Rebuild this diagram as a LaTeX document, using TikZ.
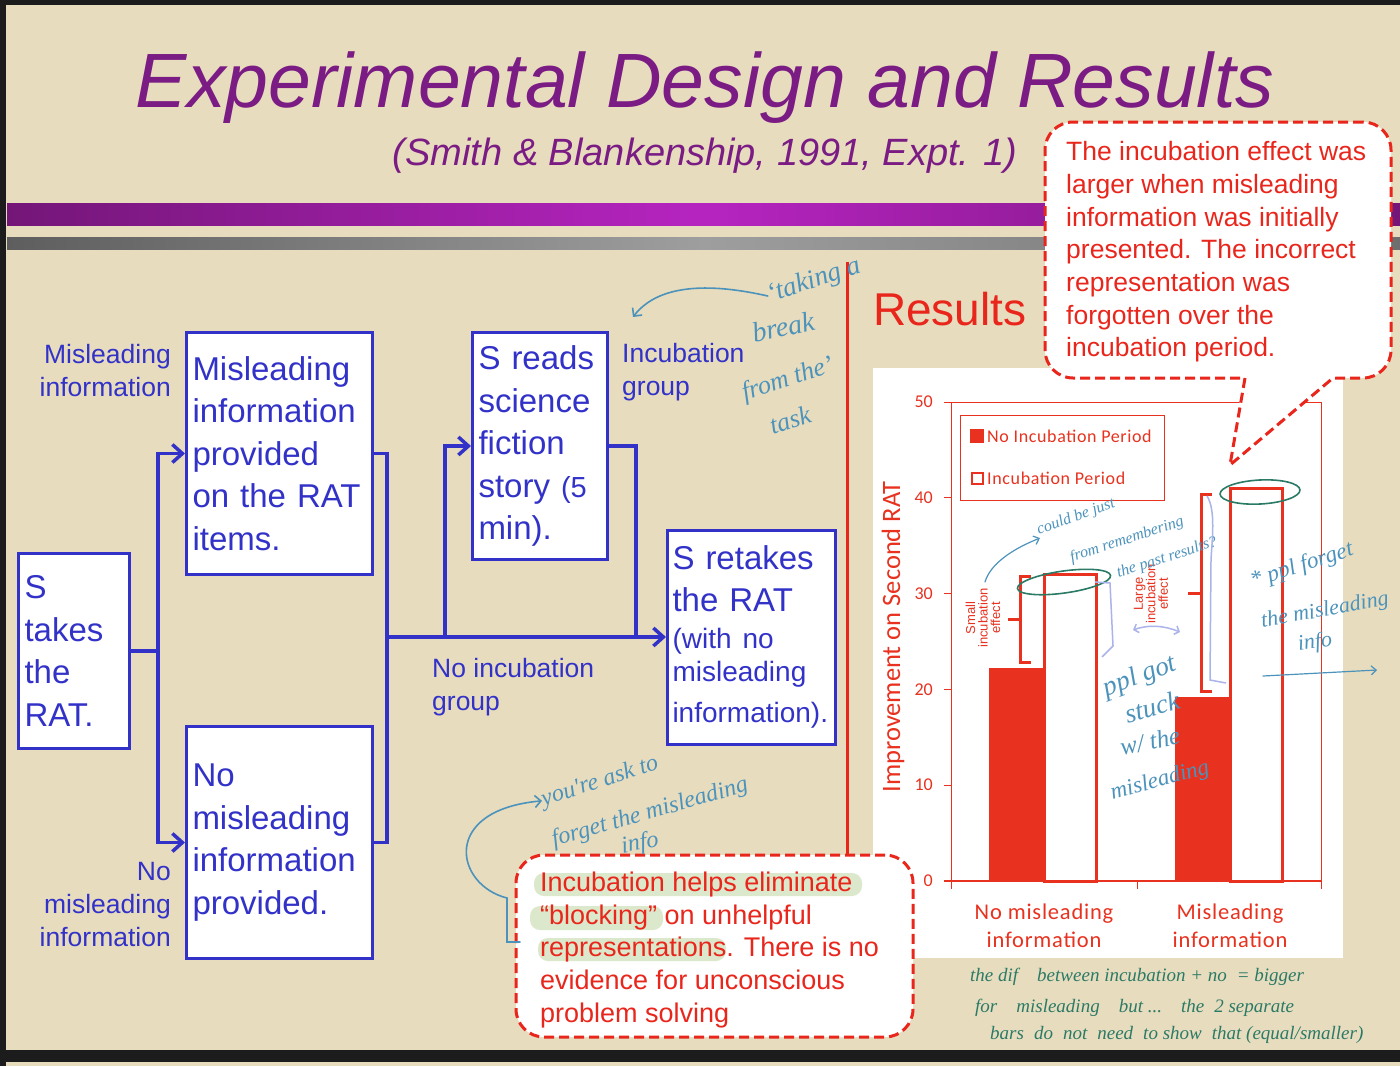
\documentclass[tikz,border=0pt]{standalone}
\usepackage{fontspec}
\setmainfont{Liberation Sans}
\newfontfamily\chartfont{Carlito}
\newfontfamily\chartwidefont{Carlito}[LetterSpace=3.5]
\newfontfamily\handfont{Liberation Serif}
\usetikzlibrary{arrows.meta}
\usetikzlibrary{positioning}

\definecolor{slidebg}{HTML}{E8DCBE}
\definecolor{darkedge}{HTML}{1C1C1C}
\definecolor{titlepurple}{HTML}{7A1C84}
\definecolor{barpurpleD}{HTML}{741678}
\definecolor{barpurpleL}{HTML}{B624C0}
\definecolor{bargrayD}{HTML}{5E5E5E}
\definecolor{bargrayL}{HTML}{9E9E9E}
\definecolor{flowblue}{HTML}{3232C8}
\definecolor{notered}{HTML}{E9261C}
\definecolor{chartred}{HTML}{E8321F}
\definecolor{hlgreen}{HTML}{DCE8CB}
\definecolor{handblue}{HTML}{4C93BC}
\definecolor{handgreen}{HTML}{2B7A66}
\definecolor{bracelav}{HTML}{AAB4EA}

\begin{document}
\begin{tikzpicture}[x=1pt,y=-1pt,>={Straight Barb[length=10pt,width=18pt]},
  flowbox/.style={draw=flowblue, line width=3pt, fill=white, text=flowblue,
    align=left, inner sep=0pt, font=\fontsize{33}{42.5}\selectfont},
  flowlbl/.style={text=flowblue, inner sep=0pt, font=\fontsize{26.5}{33}\selectfont},
  flowline/.style={draw=flowblue, line width=3.5pt},
  notebox/.style={draw=notered, line width=3pt, dash pattern=on 10pt off 5pt,
    fill=white, rounded corners=28pt, inner sep=0pt},
  notetext/.style={text=notered, align=left, inner sep=0pt},
  ticklbl/.style={text=chartred, inner sep=0pt, font=\chartfont\fontsize{18}{18}\selectfont},
  catlbl/.style={text=chartred, align=center, inner sep=0pt,
    font=\chartwidefont\fontsize{22.5}{28}\selectfont},
  legendlbl/.style={text=chartred, inner sep=0pt, font=\chartwidefont\fontsize{18}{18}\selectfont},
  effectlbl/.style={text=chartred, align=center, inner sep=0pt, rotate=90,
    font=\fontsize{13}{12.5}\selectfont},
  hand/.style={text=handblue, inner sep=0pt, font=\handfont\itshape\fontsize{24}{24}\selectfont},
  handline/.style={draw=handblue, line width=1.6pt, line cap=round},
  greenhand/.style={text=handgreen, inner sep=0pt, anchor=west,
    font=\handfont\itshape\fontsize{19}{19}\selectfont}]

  \useasboundingbox (0,0) rectangle (1400,1066);

  % slide background and bars
  \fill[slidebg] (0,0) rectangle (1400,1066);
  \fill[darkedge] (0,0) rectangle (1400,5);
  \fill[darkedge] (0,0) rectangle (6,1066);
  \fill[darkedge] (0,1050) rectangle (1400,1062);
  \shade[left color=barpurpleD, right color=barpurpleD, middle color=barpurpleL]
    (7,203) rectangle (1400,225);
  \shade[left color=bargrayD, right color=bargrayD!90!white, middle color=bargrayL]
    (7,237) rectangle (1400,249);

  \node[text=titlepurple, anchor=base, inner sep=0pt,
    font=\itshape\fontsize{77}{77}\selectfont] (title) at (705,107)
    {Experimental Design and Results};
  \node[text=titlepurple, anchor=base, inner sep=0pt,
    font=\itshape\fontsize{38}{38}\selectfont] (subtitle) at (705,165)
    {(Smith \& Blankenship, 1991, Expt. 1)};

  % flow chart
  \node[flowbox, minimum width=111pt, minimum height=195pt, text width=99pt] (rat)
    at (74,651) {S\\takes\\the\\RAT.};
  \node[flowbox, minimum width=186pt, minimum height=242pt, text width=174pt] (mis)
    at (279.5,453.5) {Misleading\\information\\provided\\on the RAT\\items.};
  \node[flowbox, minimum width=186pt, minimum height=232pt, text width=174pt] (nomis)
    at (279.5,842.5) {No\\misleading\\information\\provided.};
  \node[flowbox, minimum width=135pt, minimum height=227pt, text width=123pt] (reads)
    at (540,446) {S reads\\science\\fiction\\story {\fontsize{29}{42.5}\selectfont(5}\\min).};
  \node[flowbox, minimum width=168pt, minimum height=214pt, text width=158pt,
    font=\fontsize{33}{42}\selectfont] (retake) at (751.5,637)
    {S retakes\\the RAT\\[-5pt]{\fontsize{28}{42}\selectfont(with no}\\[-9pt]%
     {\fontsize{28}{42}\selectfont misleading}\\[-1pt]{\fontsize{28}{42}\selectfont information).}};

  \node[flowlbl, align=right, anchor=east] (mislbl) at (171,371) {Misleading\\information};
  \node[flowlbl, align=right, anchor=east] (nomislbl) at (171,904) {No\\misleading\\information};
  \node[flowlbl, align=left, anchor=west] (inclbl) at (622,372) {Incubation\\group};
  \node[flowlbl, align=left, anchor=west] (noinclbl) at (432,687) {No incubation\\group};

  \coordinate (split) at (158,651);
  \coordinate (join) at (387,637);
  \coordinate (fork) at (445,637);
  \coordinate (rejoin) at (636,637);

  \draw[flowline] (rat.east) -- (split);
  \draw[flowline,->] (split) |- (mis.west);
  \draw[flowline,->] (split) |- (nomis.west);
  \draw[flowline] (mis.east) -| (join) |- (nomis.east);
  \draw[flowline,->] (join) -- (retake.west);
  \draw[flowline,->] (fork) |- (reads.west);
  \draw[flowline] (reads.east) -| (rejoin);

  % results side
  \draw[notered, line width=3pt] (847,262) -- (847,855);
  \node[text=notered, anchor=base west, inner sep=0pt,
    font=\fontsize{46}{46}\selectfont] (results) at (873,325) {Results};

  \fill[white] (873,368) rectangle (1343,958);
  \begin{scope}[shift={(951,881)}, y=9.58pt]
    \foreach \c/\a/\b in {93/22.2/32, 279/19.2/41}{
      \fill[chartred] (\c-55,0) rectangle (\c,\a);
      \draw[chartred, line width=3pt] (\c,0) rectangle (\c+52,\b);
    }
    \draw[chartred, line width=1pt] (0,0) rectangle (370,50);
    \draw[chartred, line width=1.2pt] (-7,0) -- (370,0);
    \foreach \v in {0,10,...,50}{
      \draw[chartred, line width=1pt] (-7,\v) -- (0,\v);
      \node[ticklbl, anchor=east] (tick\v) at (-18,\v) {\v};
    }
    \foreach \t in {0,186,370}
      \draw[chartred, line width=1pt] (\t,0) -- (\t,-0.8);
  \end{scope}

  \node[rotate=90, text=chartred, inner sep=0pt,
    font=\chartfont\fontsize{26.5}{26.5}\selectfont] (ylbl) at (893,637)
    {Improvement on Second RAT};
  \node[catlbl] (catno) at (1044,926) {No misleading\\information};
  \node[catlbl] (catmis) at (1230,926) {Misleading\\information};

  \draw[chartred, line width=1pt] (960,415) rectangle (1164,500);
  \fill[chartred] (970,429) rectangle (984,443);
  \node[legendlbl, anchor=west] (legno) at (987,436) {No Incubation Period};
  \draw[chartred, line width=2pt] (971.5,472.5) rectangle (982.5,483.5);
  \node[legendlbl, anchor=west] (leginc) at (987,478) {Incubation Period};

  \draw[chartred, line width=3pt] (1031,576) -- (1020,576) -- (1020,662) -- (1031,662);
  \draw[chartred, line width=3pt] (1020,619) -- (1008,619);
  \draw[chartred, line width=3pt] (1212,494) -- (1201,494) -- (1201,691) -- (1212,691);
  \draw[chartred, line width=3pt] (1201,593) -- (1188,593);
  \node[effectlbl] (smalllbl) at (983,618) {Small\\incubation\\effect};
  \node[effectlbl] (largelbl) at (1151,594) {Large\\incubation\\effect};

  % callouts
  \node[notebox, minimum width=346pt, minimum height=256pt] (effectnote) at (1218,250) {};
  \node[notetext, anchor=west, font=\fontsize{26.5}{32.7}\selectfont] (effecttext) at (1066,252)
    {The incubation effect was\\larger when misleading\\information was initially\\%
     presented. The incorrect\\representation was\\forgotten over the\\incubation period.};
  \fill[white] (1244,374) -- (1230,465) -- (1338,374) -- cycle;
  \draw[notered, line width=3pt, dash pattern=on 10pt off 5pt]
    (1245,378) -- (1230,465) -- (1333,378);

  \node[notebox, minimum width=397pt, minimum height=182pt] (blocknote) at (714.5,946) {};
  \fill[hlgreen, rounded corners=10pt] (534,873) rectangle (862,896);
  \fill[hlgreen, rounded corners=10pt] (530,906) rectangle (663,930);
  \fill[hlgreen, rounded corners=10pt] (538,938) rectangle (726,961);
  \node[notetext, anchor=west, font=\fontsize{27}{32.75}\selectfont] (blocktext) at (540,950)
    {Incubation helps eliminate\\“blocking” on unhelpful\\representations. There is no\\%
     evidence for unconscious\\problem solving};

  % handwritten notes
  \node[hand, rotate=18, font=\handfont\itshape\fontsize{27}{27}\selectfont] (take1) at (814,281) {‘taking a};
  \node[hand, rotate=12, font=\handfont\itshape\fontsize{28}{28}\selectfont] (take2) at (783,327) {break};
  \node[hand, rotate=18, font=\handfont\itshape\fontsize{26}{26}\selectfont] (take3) at (788,380) {from the’};
  \node[hand, rotate=18, font=\handfont\itshape\fontsize{26}{26}\selectfont] (take4) at (790,420) {task};
  \coordinate (breakend) at (633,317);
  \draw[handline,->,>={Straight Barb[length=6pt,width=12pt]}] (take1.west)
    .. controls (715,284) and (660,282) .. (breakend);

  \node[hand, rotate=18] (forget1) at (600,782) {you're ask to};
  \node[hand, rotate=16] (forget2) at (650,813) {forget the misleading};
  \node[hand, rotate=10] (forget3) at (640,844) {info};
  \draw[handline,->,>={Straight Barb[length=6pt,width=12pt]}] (520,942) -- (507,942) -- (507,898)
    .. controls (455,885) and (440,810) .. (forget1.west);

  \node[hand, rotate=20, font=\handfont\itshape\fontsize{16}{16}\selectfont] (recall1) at (1076,517) {could be just};
  \node[hand, rotate=18, font=\handfont\itshape\fontsize{16}{16}\selectfont] (recall2) at (1127,540) {from remembering};
  \node[hand, rotate=18, font=\handfont\itshape\fontsize{16}{16}\selectfont] (recall3) at (1167,558) {the past results?};
  \draw[handline, line width=1.2pt,->,>={Straight Barb[length=5pt,width=9pt]}] (985,582)
    .. controls (990,565) and (1010,550) .. (recall1.south west);

  \node[hand, rotate=20, font=\handfont\itshape\fontsize{27}{27}\selectfont] (stuck1) at (1140,677) {ppl got};
  \node[hand, rotate=15, font=\handfont\itshape\fontsize{27}{27}\selectfont] (stuck2) at (1152,707) {stuck};
  \node[hand, rotate=12, font=\handfont\itshape\fontsize{25}{25}\selectfont] (stuck3) at (1150,741) {w/ the};
  \node[hand, rotate=15, font=\handfont\itshape\fontsize{23}{23}\selectfont] (stuck4) at (1160,781) {misleading};

  \node[hand, rotate=18, font=\handfont\itshape\fontsize{23}{23}\selectfont] (drop1) at (1302,566) {* ppl forget};
  \node[hand, rotate=10, font=\handfont\itshape\fontsize{22}{22}\selectfont] (drop2) at (1325,611) {the misleading};
  \node[hand, rotate=8, font=\handfont\itshape\fontsize{22}{22}\selectfont] (drop3) at (1315,643) {info};
  \draw[handline, line width=1.2pt,->,>={Straight Barb[length=5pt,width=9pt]}] (1263,676) -- (1377,670);

  \draw[handgreen, line width=1.6pt] (1064,582) ellipse [x radius=47, y radius=11, rotate=8];
  \draw[handgreen, line width=1.6pt] (1260,492) ellipse [x radius=40, y radius=12, rotate=3];

  \draw[bracelav, line width=1.5pt] (1095,582) -- (1110,583) -- (1113,646) -- (1102,657);
  \draw[bracelav, line width=1.5pt] (1207,496) .. controls (1216,510) and (1212,540) .. (1211,560)
    -- (1210,680) -- (1226,683);
  \draw[bracelav, line width=1.5pt, <->, >={Straight Barb[length=4pt,width=9pt]}] (1133,630)
    .. controls (1150,624) and (1165,626) .. (1180,632);

  \node[greenhand] (diff1) at (970,977) {the dif\quad between incubation + no\; = bigger};
  \node[greenhand] (diff2) at (975,1008) {for\quad misleading\quad but ...\quad the\; 2 separate};
  \node[greenhand] (diff3) at (990,1035) {bars\; do\; not\; need\; to show\; that (equal/smaller)};
\end{tikzpicture}
\end{document}
